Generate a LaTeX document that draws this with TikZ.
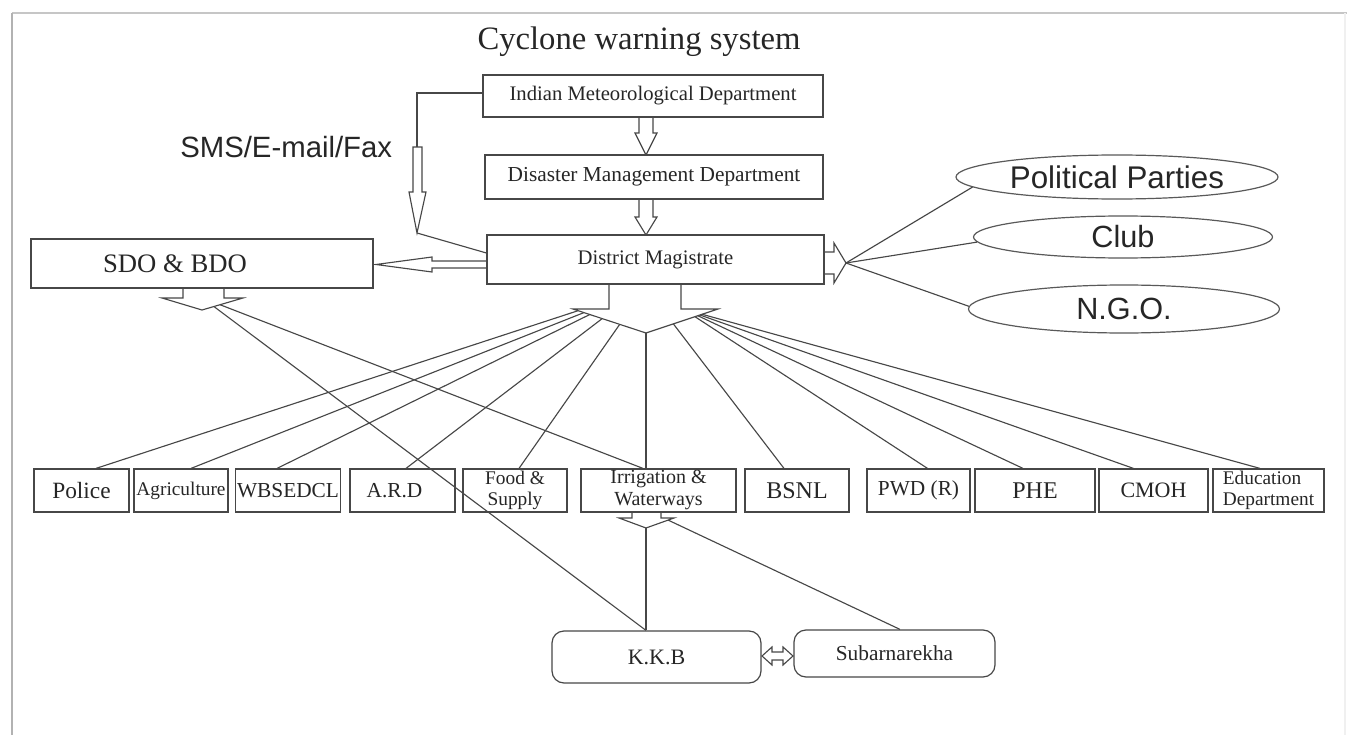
\documentclass[tikz,border=0pt]{standalone}
\usepackage{fontspec}
\setmainfont{Liberation Serif}
\newfontfamily\arialf{Liberation Sans}
\usetikzlibrary{calc,shapes.geometric}
\newcommand\fsz[2]{\fontsize{#1}{#2}\selectfont}
\begin{document}
\begin{tikzpicture}[x=0.75pt,y=-0.75pt,
  ln/.style={draw=black!72, line width=0.85pt},
  box/.style={draw=black!72, line width=0.9pt, fill=white, rectangle, inner sep=1pt, text=black!85},
  rbox/.style={box, rounded corners=9pt},
  sz/.style 2 args={minimum width=#1*0.75pt, minimum height=#2*0.75pt},
  ell/.style={ellipse, draw=black!65, line width=0.9pt, fill=white, inner sep=0pt, text=black!85},
  harrow/.style={draw=black!72, line width=0.85pt, fill=white, line join=miter}]
\useasboundingbox (0,0) rectangle (1347,735);
% frame
\draw[gray!45, line width=1.3pt] (12,13) -- (1347,13);
\draw[gray!60, line width=1.6pt] (12,13) -- (12,735);
\draw[gray!12, line width=1pt] (1345,13) -- (1345,735);

% hollow block arrows
\draw[harrow] (639,117) -- (653,117) -- (653,133) -- (657,133) -- (646,155) -- (635,133) -- (639,133) -- cycle;
\draw[harrow] (639,199) -- (653,199) -- (653,217) -- (657,217) -- (646,235) -- (635,217) -- (639,217) -- cycle;
\draw[harrow] (413,147) -- (422,147) -- (422,192) -- (426,192) -- (417,233) -- (409,192) -- (413,192) -- cycle;
\draw[harrow] (487,261) -- (432,261) -- (432,257) -- (376,264.5) -- (432,272) -- (432,268) -- (487,268);
\draw[harrow] (824,252) -- (834,252) -- (834,243) -- (846,263) -- (834,283) -- (834,274) -- (824,274);
\draw[harrow] (609,284) -- (609,309) -- (573,309) -- (646,333) -- (718,309) -- (681,309) -- (681,284);
\draw[harrow] (183,288) -- (183,298) -- (162,298) -- (202,310) -- (243,298) -- (224,298) -- (224,288);
\draw[harrow] (632,512) -- (632,518) -- (619,518) -- (646,528) -- (674,518) -- (661,518) -- (661,512);
\draw[harrow] (762,656) -- (772,647) -- (772,652) -- (783,652) -- (783,647) -- (793,656) -- (783,665) -- (783,660) -- (772,660) -- (772,665) -- cycle;

\coordinate (s1) at (417,93);
\coordinate (s2) at (417,147);
\coordinate (smsT) at (417,233);
\coordinate (eaT) at (846,263);
\coordinate (dmL) at (573,309);
\coordinate (dmT) at (646,333);
\coordinate (dmR) at (718,309);
\coordinate (sdoT) at (202,310);
\coordinate (sdoR) at (243,298);
\coordinate (irT) at (646,528);
\coordinate (irR) at (674,518);

% texts
\node[anchor=base, inner sep=0, text=black!85, font=\fsz{24.5}{26}] (title) at (639,50) {Cyclone warning system};
\node[anchor=base west, inner sep=0, text=black!85, font=\arialf\fsz{22}{24}] (sms) at (180,157) {SMS/E-mail/Fax};

% main boxes
\node[box,sz={340}{42}, font=\fsz{15.5}{17}] (imd) at (653,96) {Indian Meteorological Department};
\node[box,sz={338}{44}, font=\fsz{16}{18}] (dmd) at (654,177) {Disaster Management Department};
\node[box,sz={337}{49}, font=\fsz{15.5}{17}] (dm) at (655.5,259.5) {District Magistrate};
\node[box,sz={342}{49}, font=\fsz{20}{22}] (sdo) at (202,263.5) {SDO \& BDO\hspace*{40.5pt}};

% ellipses
\node[ell,sz={322}{44}, font=\arialf\fsz{23.5}{25}] (pp) at (1117,177) {Political Parties};
\node[ell,sz={299}{42}, font=\arialf\fsz{23}{25}] (club) at (1123,237) {Club};
\node[ell,sz={311}{48}, font=\arialf\fsz{23}{25}] (ngo) at (1124,309) {N.G.O.};

% bottom row
\node[box,sz={95}{43}, font=\fsz{17.5}{19}] (police) at (81.5,490.5) {Police};
\node[box,sz={94}{43}, font=\fsz{14.5}{16}] (agri) at (181,490.5) {Agriculture};
\node[box,sz={104}{43}, font=\fsz{16}{18}] (wbs) at (288,490.5) {WBSEDCL};
\node[box,sz={105}{43}, font=\fsz{16}{18}] (ard) at (402.5,490.5) {A.R.D\hspace*{12pt}};
\node[box,sz={104}{43}, align=center, font=\fsz{14.5}{15.8}] (food) at (515,490.5) {Food \&\\Supply};
\node[box,sz={155}{43}, align=center, font=\fsz{15}{16.5}] (irr) at (658.5,490.5) {Irrigation \&\\Waterways};
\node[box,sz={104}{43}, font=\fsz{18}{20}] (bsnl) at (797,490.5) {BSNL};
\node[box,sz={103}{43}, font=\fsz{16}{18}] (pwd) at (918.5,490.5) {PWD (R)};
\node[box,sz={120}{43}, font=\fsz{18}{20}] (phe) at (1035,490.5) {PHE};
\node[box,sz={109}{43}, font=\fsz{16.5}{18}] (cmoh) at (1153.5,490.5) {CMOH};
\node[box,sz={111}{43}, align=left, inner xsep=1pt, font=\fsz{14.5}{16}] (edu) at (1268.5,490.5) {Education\\Department};

% rivers
\node[rbox,sz={209}{52}, font=\fsz{16.5}{18}] (kkb) at (656.5,657) {K.K.B};
\node[rbox,sz={201}{47}, font=\fsz{16}{18}] (sub) at (894.5,653.5) {Subarnarekha};

% connectors
\draw[ln] ($(imd.west)+(0,-3)$) -- (s1) -- (s2);
\draw[ln] (smsT) -- ($(dm.west)+(0,-6.5)$);
\draw[ln] (eaT) -- (pp.184);
\draw[ln] (eaT) -- (club.182);
\draw[ln] (eaT) -- (ngo.179);

\draw[ln] ($(dmL)!0.07!(dmT)$) -- ($(police.north)+(14.5,0)$);
\draw[ln] ($(dmL)!0.15!(dmT)$) -- ($(agri.north)+(10,0)$);
\draw[ln] ($(dmL)!0.23!(dmT)$) -- ($(wbs.north)+(-11,0)$);
\draw[ln] ($(dmL)!0.40!(dmT)$) -- ($(ard.north)+(3.5,0)$);
\draw[ln] ($(dmL)!0.64!(dmT)$) -- ($(food.north)+(4,0)$);
\draw[ln] (dmT) -- (dmT |- irr.north);
\draw[ln] ($(dmT)!0.38!(dmR)$) -- ($(bsnl.north)+(-13,0)$);
\draw[ln] ($(dmT)!0.68!(dmR)$) -- ($(pwd.north)+(9,0)$);
\draw[ln] ($(dmT)!0.72!(dmR)$) -- ($(phe.north)+(-12,0)$);
\draw[ln] ($(dmT)!0.75!(dmR)$) -- ($(cmoh.north)+(-20,0)$);
\draw[ln] ($(dmT)!0.78!(dmR)$) -- ($(edu.north)+(-8.5,0)$);

\draw[ln] ($(sdoT)!0.44!(sdoR)$) -- ($(irr.north)+(-15.5,0)$);
\draw[ln] ($(sdoT)!0.29!(sdoR)$) -- (irT |- kkb.north);
\draw[ln] (irT) -- (irT |- kkb.north);
\draw[ln] ($(irT)!0.79!(irR)$) -- ($(sub.north)+(5.5,0)$);
\end{tikzpicture}
\end{document}
